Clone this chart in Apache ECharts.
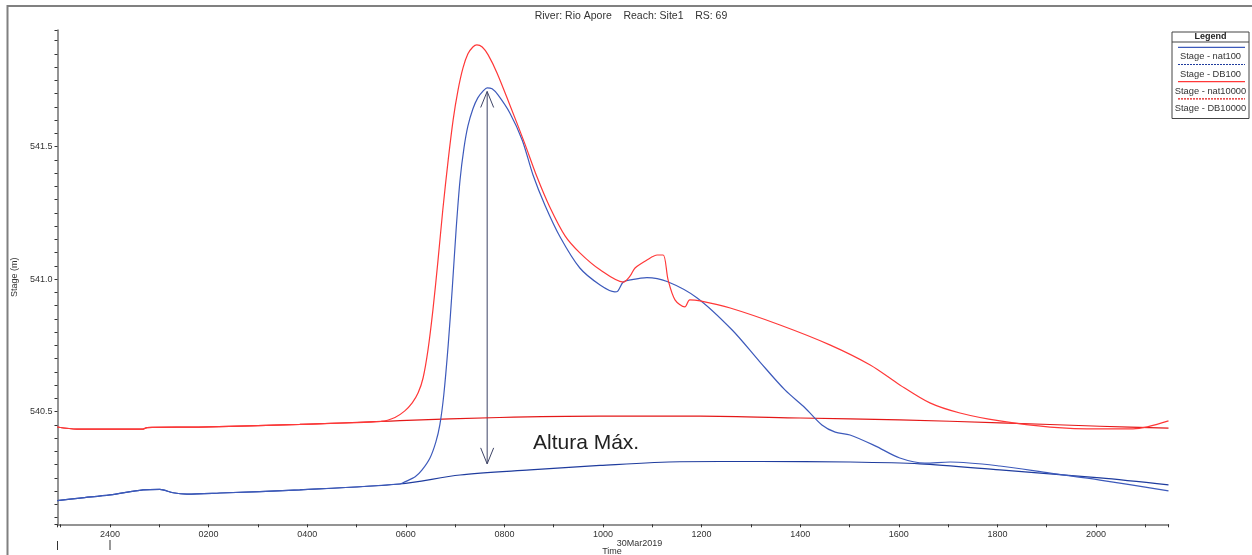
<!DOCTYPE html>
<html>
<head>
<meta charset="utf-8">
<script src="https://cdn.jsdelivr.net/npm/echarts@6/dist/echarts.min.js"></script>
<style>
  html, body { margin: 0; padding: 0; background: #ffffff; }
  #chart { width: 1252px; height: 555px; }
</style>
</head>
<body>
<div id="chart"></div>
<script>
// Stage hydrograph at RS 69, Rio Apore – time in hours from 0000 30Mar2019, stage in metres
const chartTitle = 'River: Rio Apore    Reach: Site1    RS: 69';
const dateLabel = '30Mar2019';
const xAxisTitle = 'Time';
const yAxisTitle = 'Stage (m)';
const seriesNames = ['Stage - nat100', 'Stage - DB100', 'Stage - nat10000', 'Stage - DB10000'];
const seriesColors = ['#3d5abb', '#1f3c9e', '#ff3838', '#e41818'];

const timeMin = -1.065;
const timeMax = 21.47;
const stageMin = 540.075;
const stageMax = 541.94;

const db100 = [
  [-1.07, 540.164], [-0.61, 540.174], [0.00, 540.186], [0.67, 540.205], [1.01, 540.207],
  [1.28, 540.194], [1.56, 540.189], [2.23, 540.193], [3.85, 540.205], [5.88, 540.227],
  [7.10, 540.261], [8.52, 540.280], [9.94, 540.297], [11.56, 540.311], [13.18, 540.312],
  [15.01, 540.310], [16.43, 540.303], [18.05, 540.280], [20.08, 540.250], [21.47, 540.224]
];

const nat100 = [
  [-1.07, 540.164], [-0.61, 540.174], [0.00, 540.186], [0.67, 540.205], [1.01, 540.207],
  [1.28, 540.194], [1.56, 540.189], [2.23, 540.193], [3.85, 540.205], [5.88, 540.227],
  [5.98, 540.235], [6.19, 540.254], [6.33, 540.280], [6.49, 540.325], [6.61, 540.386],
  [6.69, 540.450], [6.77, 540.563], [6.86, 540.752], [6.94, 540.959], [7.02, 541.186],
  [7.10, 541.374], [7.18, 541.495], [7.26, 541.578], [7.36, 541.642], [7.46, 541.684],
  [7.57, 541.710], [7.65, 541.722], [7.75, 541.718], [7.87, 541.695], [8.11, 541.627],
  [8.36, 541.525], [8.58, 541.393], [8.82, 541.280], [9.13, 541.159], [9.53, 541.042],
  [9.94, 540.978], [10.24, 540.952], [10.30, 540.955], [10.41, 540.989], [10.55, 540.997],
  [10.89, 541.006], [11.30, 540.991], [11.91, 540.929], [12.62, 540.808], [13.18, 540.688],
  [13.69, 540.582], [14.10, 540.514], [14.44, 540.450], [14.71, 540.423], [15.01, 540.412],
  [15.52, 540.371], [16.02, 540.325], [16.53, 540.306], [17.04, 540.310], [18.05, 540.295],
  [19.07, 540.268], [20.08, 540.242], [21.47, 540.201]
];

const db10000 = [
  [-1.07, 540.442], [-0.67, 540.434], [0.67, 540.434], [0.75, 540.440], [1.80, 540.442],
  [3.85, 540.452], [5.50, 540.463], [5.88, 540.466], [7.90, 540.478], [9.94, 540.483],
  [11.97, 540.483], [14.00, 540.476], [16.02, 540.469], [18.05, 540.458], [20.08, 540.445],
  [21.47, 540.438]
];

const nat10000 = [
  [-1.07, 540.442], [-0.67, 540.434], [0.67, 540.434], [0.75, 540.440], [1.80, 540.442],
  [3.85, 540.452], [5.50, 540.463], [5.78, 540.478], [5.98, 540.503], [6.13, 540.533],
  [6.25, 540.571], [6.35, 540.627], [6.45, 540.733], [6.55, 540.884], [6.65, 541.065],
  [6.75, 541.261], [6.86, 541.450], [6.96, 541.601], [7.06, 541.714], [7.16, 541.797],
  [7.26, 541.850], [7.36, 541.876], [7.44, 541.884], [7.55, 541.876], [7.67, 541.846],
  [7.85, 541.778], [8.11, 541.657], [8.40, 541.518], [8.66, 541.386], [8.92, 541.272],
  [9.23, 541.163], [9.53, 541.099], [9.94, 541.035], [10.41, 540.989], [10.55, 541.012],
  [10.65, 541.042], [10.89, 541.072], [11.10, 541.091], [11.22, 541.091], [11.32, 540.997],
  [11.46, 540.922], [11.66, 540.895], [11.76, 540.922], [11.97, 540.918], [12.58, 540.891],
  [13.59, 540.827], [14.60, 540.752], [15.42, 540.676], [16.02, 540.601], [16.63, 540.533],
  [17.24, 540.495], [18.05, 540.465], [19.07, 540.442], [20.08, 540.435], [20.75, 540.435],
  [21.47, 540.465]
];

// Max-height annotation: time, lower stage, upper stage
const peakArrow = [[7.65, 540.303, 541.708]];
const peakArrowText = 'Altura Máx.';

const FONT = '"Liberation Sans", Arial, Helvetica, sans-serif';
const chart = echarts.init(document.getElementById('chart'), null, { renderer: 'canvas' });

function hourLabel(v) {
  if (Math.abs(v - Math.round(v)) > 1e-6) return '';
  const h = Math.round(v);
  if (h % 2 !== 0) return '';
  const hh = h <= 0 ? h + 24 : h;
  return String(hh * 100).padStart(4, '0');
}

function stageLabel(v) {
  const d = v * 2;
  if (Math.abs(d - Math.round(d)) > 1e-6) return '';
  return v.toFixed(1);
}

function lineSeries(name, data, color) {
  return {
    name, type: 'line', data,
    showSymbol: false, symbol: 'none',
    smooth: 0.3,
    lineStyle: { color, width: 1.2 },
    itemStyle: { color },
    silent: true
  };
}

const arrowColor = '#3e4466';

chart.setOption({
  animation: false,
  backgroundColor: '#ffffff',
  grid: { left: 57.5, right: 83.5, top: 30, bottom: 30.7, containLabel: false },
  xAxis: {
    type: 'value', min: timeMin, max: timeMax, splitNumber: 22,
    axisLine: { show: true, onZero: false, lineStyle: { color: '#707070', width: 1.5 } },
    axisTick: { show: true, length: 3, lineStyle: { color: '#333', width: 1 } },
    axisLabel: { formatter: hourLabel, color: '#333', fontSize: 9, fontFamily: FONT, margin: 6, showMinLabel: true, showMaxLabel: true },
    splitLine: { show: false }
  },
  yAxis: {
    type: 'value', min: stageMin, max: stageMax, splitNumber: 37,
    name: yAxisTitle, nameLocation: 'middle', nameGap: 35, nameRotate: 90,
    nameTextStyle: { color: '#333', fontSize: 9, fontFamily: FONT },
    axisLine: { show: true, onZero: false, lineStyle: { color: '#707070', width: 1.5 } },
    axisTick: { show: true, length: 3, lineStyle: { color: '#333', width: 1 } },
    axisLabel: { formatter: stageLabel, color: '#333', fontSize: 9, fontFamily: FONT, margin: 5 },
    splitLine: { show: false }
  },
  series: [
    lineSeries(seriesNames[1], db100, seriesColors[1]),
    lineSeries(seriesNames[3], db10000, seriesColors[3]),
    lineSeries(seriesNames[0], nat100, seriesColors[0]),
    lineSeries(seriesNames[2], nat10000, seriesColors[2]),
    {
      type: 'custom', name: 'peak-arrow', silent: true, clip: false,
      data: peakArrow,
      encode: { x: 0, y: [1, 2] },
      renderItem(params, api) {
        const top = api.coord([api.value(0), api.value(2)]);
        const bot = api.coord([api.value(0), api.value(1)]);
        const hw = 6.5, hl = 16;
        const st = { stroke: arrowColor, fill: null, lineWidth: 1 };
        return {
          type: 'group',
          children: [
            { type: 'line', shape: { x1: top[0], y1: top[1], x2: bot[0], y2: bot[1] }, style: st },
            { type: 'polyline', shape: { points: [[top[0] - hw, top[1] + hl], [top[0], top[1]], [top[0] + hw, top[1] + hl]] }, style: st },
            { type: 'polyline', shape: { points: [[bot[0] - hw, bot[1] - hl], [bot[0], bot[1]], [bot[0] + hw, bot[1] - hl]] }, style: st }
          ]
        };
      }
    }
  ]
});

// Frame, title, date/axis captions, legend box
const x0 = chart.convertToPixel({ xAxisIndex: 0 }, 0);
const xStart = chart.convertToPixel({ xAxisIndex: 0 }, timeMin);

const legendX = 1172, legendY = 32, legendW = 77, legendH = 86.5;
const legendItems = seriesNames.map((name, i) => ({ name, color: seriesColors[i], dashed: i % 2 === 1 }));
const legendGraphics = [
  { type: 'rect', shape: { x: legendX, y: legendY, width: legendW, height: legendH }, style: { fill: '#fff', stroke: '#444', lineWidth: 1 } },
  { type: 'text', x: legendX + legendW / 2, y: legendY + 5, style: { text: 'Legend', fontSize: 9, fontWeight: 'bold', fontFamily: FONT, fill: '#222', align: 'center', verticalAlign: 'middle' } },
  { type: 'line', shape: { x1: legendX, y1: legendY + 10, x2: legendX + legendW, y2: legendY + 10 }, style: { stroke: '#444', lineWidth: 1 } }
];
legendItems.forEach((it, i) => {
  const ly = legendY + 15.3 + i * 17.2;
  legendGraphics.push({ type: 'line', shape: { x1: legendX + 6, y1: ly, x2: legendX + legendW - 4, y2: ly }, style: { stroke: it.color, lineWidth: 1.2, lineDash: it.dashed ? [2, 1] : null } });
  legendGraphics.push({ type: 'text', x: legendX + legendW / 2, y: ly + 9.5, style: { text: it.name, fontSize: 9.3, fontFamily: FONT, fill: '#333', align: 'center', verticalAlign: 'middle' } });
});

chart.setOption({
  graphic: [
    { type: 'polyline', shape: { points: [[7.5, 555], [7.5, 6], [1252, 6]] }, style: { stroke: '#808080', lineWidth: 2, fill: null }, silent: true },
    { type: 'text', x: 631, y: 16, style: { text: chartTitle, fontSize: 10.5, fontFamily: FONT, fill: '#333', align: 'center', verticalAlign: 'middle' } },
    { type: 'text', x: 639.5, y: 543.5, style: { text: dateLabel, fontSize: 9, fontFamily: FONT, fill: '#333', align: 'center', verticalAlign: 'middle' } },
    { type: 'text', x: 612, y: 551.5, style: { text: xAxisTitle, fontSize: 9, fontFamily: FONT, fill: '#333', align: 'center', verticalAlign: 'middle' } },
    { type: 'line', shape: { x1: xStart, y1: 541, x2: xStart, y2: 550 }, style: { stroke: '#333', lineWidth: 1 } },
    { type: 'line', shape: { x1: x0, y1: 540, x2: x0, y2: 550 }, style: { stroke: '#333', lineWidth: 1 } },
    { type: 'text', x: 533, y: 443, style: { text: peakArrowText, fontSize: 21, fontFamily: FONT, fill: '#222', align: 'left', verticalAlign: 'middle' } }
  ].concat(legendGraphics.map(g => Object.assign({ silent: true }, g)))
});
</script>
</body>
</html>
